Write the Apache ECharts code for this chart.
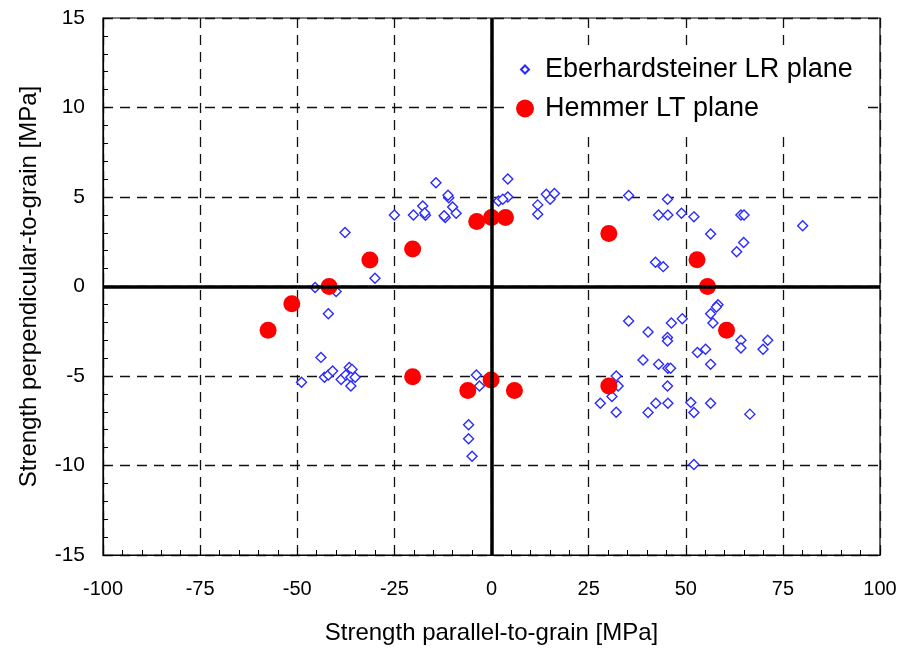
<!DOCTYPE html>
<html>
<head>
<meta charset="utf-8">
<script src="https://cdn.jsdelivr.net/npm/echarts@6/dist/echarts.min.js"></script>
<style>html,body{margin:0;padding:0;background:#fff}#c{width:903px;height:650px}</style>
</head>
<body>
<div id="c"></div>
<script>
// Eberhardsteiner LR plane: [parallel, perpendicular] in MPa
var eberhardsteinerLR = [
  [4.2,6.0],[-14.3,5.8],[-11.0,4.96],[-11.2,5.1],[4.2,5.0],[1.8,4.78],[2.9,4.87],[-17.7,4.5],
  [-10.0,4.44],[-25.0,4.0],[-20.1,4.0],[-17.0,3.98],[-17.2,4.1],[-11.9,3.85],[-12.2,3.95],
  [-9.1,4.09],[-37.7,3.02],[-30.0,0.46],[-45.4,-0.06],[-40.0,-0.28],[-42.0,-1.52],
  [11.9,4.56],[11.9,4.04],[14.1,5.15],[15.1,4.87],[16.2,5.2],
  [-43.9,-3.96],[-48.9,-5.35],[-43.0,-5.07],[-42.0,-4.94],[-40.9,-4.72],[-38.7,-5.19],
  [-37.5,-4.94],[-36.6,-4.52],[-35.9,-4.63],[-36.2,-5.07],[-35.1,-5.07],[-36.2,-5.56],
  [-3.9,-4.94],[-3.1,-5.56],[-5.9,-7.72],[-5.9,-8.5],[-5.0,-9.48],
  [35.3,5.09],[45.3,4.87],[43.0,4.0],[45.4,4.0],[48.9,4.09],[52.1,3.89],[64.2,4.0],[65.0,4.0],
  [80.1,3.39],[56.4,2.93],[64.9,2.46],[63.1,1.94],[42.2,1.35],[44.2,1.11],
  [58.3,-1.02],[57.9,-1.15],[56.4,-1.52],[57.0,-2.04],[35.3,-1.93],[46.3,-2.04],[49.1,-1.8],
  [40.3,-2.54],[45.3,-2.85],[45.3,-3.04],[64.2,-3.0],[64.2,-3.43],[71.1,-3.0],[69.9,-3.5],
  [55.1,-3.5],[53.0,-3.69],[56.4,-4.35],[39.0,-4.11],[43.0,-4.35],[45.4,-4.57],[46.1,-4.57],
  [45.3,-5.56],[32.1,-5.0],[32.6,-5.56],[31.0,-6.15],[28.0,-6.52],[32.1,-7.02],[42.3,-6.52],
  [40.3,-7.04],[45.4,-6.52],[51.3,-6.48],[52.1,-7.04],[56.4,-6.52],[66.5,-7.13],[52.1,-9.94]
];
// Hemmer LT plane
var hemmerLT = [
  [-57.5,-2.44],[-51.4,-0.96],[-41.8,0],[-31.3,1.48],[-20.3,2.09],[-3.8,3.63],[0,3.85],[3.6,3.85],
  [30.2,2.96],[52.9,1.5],[55.6,0],[60.5,-2.44],[30.2,-5.56],[5.9,-5.81],[-0.1,-5.22],[-6.1,-5.81],[-20.3,-5.04]
];
var xTicks = [-100,-75,-50,-25,0,25,50,75,100];
var yTicks = [-15,-10,-5,0,5,10,15];
var seriesNames = ['Eberhardsteiner LR plane','Hemmer LT plane'];
var xName = 'Strength parallel-to-grain [MPa]';
var yName = 'Strength perpendicular-to-grain [MPa]';

var FONT = 'Liberation Sans, Arial, sans-serif';
var chart = echarts.init(document.getElementById('c'), null, {renderer:'canvas'});
var gridLine = {show:true, lineStyle:{color:'#111', width:1.3, type:[10,7]}};
chart.setOption({
  animation:false,
  backgroundColor:'#fff',
  grid:{left:103, right:23, top:18, bottom:95, show:true, borderColor:'#000', borderWidth:1.2, backgroundColor:'transparent'},
  legend:{
    orient:'vertical', left:505, top:48, padding:[8,14,8,10], backgroundColor:'#fff',
    itemWidth:18, itemHeight:18, itemGap:12,
    textStyle:{fontFamily:FONT, fontSize:27, color:'#000', padding:[0,0,0,6]},
    data:[
      {name:seriesNames[0], icon:'path://M0,0M5,9L9,5L13,9L9,13Z M18,18'},
      {name:seriesNames[1], icon:'circle'}
    ]
  },
  xAxis:{
    type:'value', min:xTicks[0], max:xTicks[xTicks.length-1], interval:25,
    name:xName, nameLocation:'middle', nameGap:66,
    nameTextStyle:{fontFamily:FONT, fontSize:24, color:'#000'},
    axisLine:{onZero:false, lineStyle:{color:'#000', width:1.2}},
    axisTick:{inside:true, length:6, lineStyle:{color:'#000'}},
    minorTick:{show:true, splitNumber:5, length:5, lineStyle:{color:'#000'}},
    axisLabel:{fontFamily:FONT, fontSize:20, color:'#000', margin:24},
    splitLine:gridLine
  },
  yAxis:{
    type:'value', min:yTicks[0], max:yTicks[yTicks.length-1], interval:5,
    name:yName, nameLocation:'middle', nameGap:62, nameRotate:90,
    nameTextStyle:{fontFamily:FONT, fontSize:24, color:'#000'},
    axisLine:{onZero:false, lineStyle:{color:'#000', width:1.2}},
    axisTick:{inside:true, length:6, lineStyle:{color:'#000'}},
    minorTick:{show:true, splitNumber:5, length:5, lineStyle:{color:'#000'}},
    axisLabel:{fontFamily:FONT, fontSize:21, color:'#000', margin:18},
    splitLine:gridLine
  },
  series:[
    {
      type:'scatter', name:'zero', data:[], z:1, silent:true,
      markLine:{silent:true, symbol:'none', animation:false, label:{show:false},
        lineStyle:{color:'#000', width:3.5, type:'solid'},
        data:[{xAxis:0},{yAxis:0}]}
    },
    {
      type:'scatter', name:seriesNames[0], data:eberhardsteinerLR, z:3,
      symbol:'diamond', symbolSize:10,
      itemStyle:{color:'#fff', borderColor:'#2b2bff', borderWidth:1.4, opacity:1}
    },
    {
      type:'scatter', name:seriesNames[1], data:hemmerLT, z:4,
      symbol:'circle', symbolSize:17,
      itemStyle:{color:'#ff0000', opacity:1}
    }
  ]
});
</script>
</body>
</html>
